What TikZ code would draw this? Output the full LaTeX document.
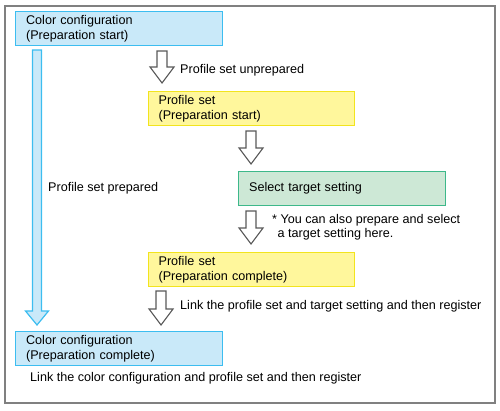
\documentclass[tikz,border=0pt]{standalone}
\usepackage{fontspec}
\setmainfont{Liberation Sans}
\usetikzlibrary{calc}
\definecolor{bfill}{HTML}{C9E9F9}
\definecolor{bline}{HTML}{3CBDF0}
\definecolor{yfill}{HTML}{FFF79C}
\definecolor{yline}{HTML}{F2E41E}
\definecolor{gfill}{HTML}{CDE8D6}
\definecolor{gline}{HTML}{3DB88A}
\definecolor{frame}{HTML}{808080}
\tikzset{
  box/.style={draw, line width=1.2pt, minimum height=34pt, text width=186pt, inner xsep=10pt, inner ysep=2pt, align=left, anchor=north west, font=\fontsize{12.6pt}{15pt}\selectfont},
  bluebox/.style={box, fill=bfill, draw=bline, minimum width=207pt},
  yelbox/.style={box, fill=yfill, draw=yline, minimum width=206pt},
  grnbox/.style={box, fill=gfill, draw=gline, minimum width=207pt},
  lbl/.style={anchor=west, inner sep=0pt, font=\fontsize{12.6pt}{14pt}\selectfont, align=left},
  harrow/.style={draw=black!65, line width=1.1pt, fill=white, line join=miter},
  barrow/.style={draw=bline, line width=1.2pt, fill=bfill, line join=miter},
}
\newcommand{\hollowarrow}[4]{% style, top, tip, half shaft, (head half 12, head len 16)
  \path[#1] ($(#2)+(-#4,0)$) -- ($(#3)+(-#4,-16)$) -- ($(#3)+(-12,-16)$) -- (#3) -- ($(#3)+(12,-16)$) -- ($(#3)+(#4,-16)$) -- ($(#2)+(#4,0)$) -- cycle;}
\begin{document}
\begin{tikzpicture}[x=1pt,y=-1pt]
\useasboundingbox (0,0) rectangle (500,411);
\draw[frame, line width=2pt] (4.5,6.5) rectangle (495,403);

\node[bluebox] (cc1) at (15,11) {Color configuration\\(Preparation start)};
\node[yelbox] (ps1) at (148,91) {Profile set\\(Preparation start)};
\node[grnbox] (ts) at (238,171) {Select target setting};
\node[yelbox] (ps2) at (148,252) {Profile set\\(Preparation complete)};
\node[bluebox] (cc2) at (15,331) {Color configuration\\(Preparation complete)};

% blue long arrow
\coordinate (b1) at (37,50);
\coordinate (b2) at (37,325);
\path[barrow] ($(b1)+(-4.5,0)$) -- ($(b2)+(-4.5,-14)$) -- ($(b2)+(-11.5,-14)$) -- (b2) -- ($(b2)+(11.5,-14)$) -- ($(b2)+(4.5,-14)$) -- ($(b1)+(4.5,0)$) -- cycle;

% gray hollow arrows
\coordinate (a1t) at (162,51);
\coordinate (a1b) at (162,83);
\hollowarrow{harrow}{a1t}{a1b}{5}
\coordinate (a2t) at (251,131);
\coordinate (a2b) at (251,164);
\hollowarrow{harrow}{a2t}{a2b}{5}
\coordinate (a3t) at (251,211);
\coordinate (a3b) at (251,244);
\hollowarrow{harrow}{a3t}{a3b}{5}
\coordinate (a4t) at (161,291);
\coordinate (a4b) at (161,325);
\hollowarrow{harrow}{a4t}{a4b}{5}

% labels
\node[lbl] (l1) at (180,70) {Profile set unprepared};
\node[lbl] (l2) at (48,188) {Profile set prepared};
\node[lbl] (l3) at (272,227) {* You can also prepare and select\\\hspace*{5.5pt}a target setting here.};
\node[lbl] (l4) at (180,306) {Link the profile set and target setting and then register};
\node[lbl] (l5) at (30,378) {Link the color configuration and profile set and then register};
\end{tikzpicture}
\end{document}
